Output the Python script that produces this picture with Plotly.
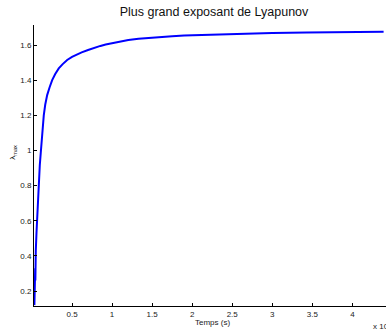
import plotly.graph_objects as go

# Largest Lyapunov exponent estimate over time
temps = [300, 320, 340, 360, 380, 400, 420, 440, 474, 560, 650, 730, 810, 973,
         1100, 1185, 1300, 1470, 1650, 1895, 2200, 2520, 2900, 3340, 3800, 4390,
         5000, 5420, 6200, 7000, 7900, 8540, 9200, 9950, 11000, 12030, 13300,
         14780, 16000, 17500, 19000, 21000, 24000, 27200, 30000, 34300, 38000,
         41000, 43900]
lambda_max = [0.12, 0.28, 0.18, 0.30, 0.22, 0.33, 0.26, 0.38, 0.43, 0.53, 0.62,
              0.72, 0.80, 0.916, 0.99, 1.05, 1.12, 1.20, 1.26, 1.315, 1.36, 1.40,
              1.435, 1.467, 1.49, 1.515, 1.533, 1.543, 1.558, 1.572, 1.587,
              1.595, 1.603, 1.61, 1.62, 1.628, 1.636, 1.642, 1.647, 1.650, 1.654,
              1.657, 1.662, 1.667, 1.669, 1.672, 1.674, 1.675, 1.676]

x_tickvals = [5000, 10000, 15000, 20000, 25000, 30000, 35000, 40000]
x_ticktext = ["0.5", "1", "1.5", "2", "2.5", "3", "3.5", "4"]
y_tickvals = [0.2, 0.4, 0.6, 0.8, 1.0, 1.2, 1.4, 1.6]
y_ticktext = ["0.2", "0.4", "0.6", "0.8", "1", "1.2", "1.4", "1.6"]

W, H = 386, 331
font_family = "Liberation Sans, Arial, sans-serif"

fig = go.Figure()
fig.add_trace(go.Scatter(
    x=temps, y=lambda_max, mode="lines",
    line=dict(color="#0000ff", width=2),
    showlegend=False,
))

axis_common = dict(
    showgrid=False, zeroline=False, showline=True, linecolor="black",
    linewidth=1, ticks="inside", ticklen=3, tickwidth=1, tickcolor="black",
    tickfont=dict(size=8, color="#222222", family=font_family),
    mirror=False,
)

fig.update_layout(
    width=W, height=H,
    margin=dict(l=33.5, r=0, t=25, b=25.3),
    paper_bgcolor="white", plot_bgcolor="white",
    font=dict(family=font_family, color="#222222"),
    title=dict(
        text="Plus grand exposant de Lyapunov",
        font=dict(size=12.5, color="#111111", family=font_family),
        x=214 / W, xref="container", xanchor="center",
        y=1 - 12 / H, yref="container", yanchor="middle",
    ),
    xaxis=dict(range=[250, 44200], tickvals=x_tickvals, ticktext=x_ticktext,
               **axis_common),
    yaxis=dict(range=[0.115, 1.714], tickvals=y_tickvals, ticktext=y_ticktext,
               **axis_common),
    annotations=[
        dict(text="Temps (s)", xref="paper", yref="paper",
             x=(212 - 33.5) / (W - 33.5), y=-(321.7 - 305.7) / (305.7 - 25),
             xanchor="center", yanchor="middle", showarrow=False,
             font=dict(size=8, color="#222222")),
        dict(text="λ<sub>max</sub>", xref="paper", yref="paper",
             x=-(33.5 - 13) / (W - 33.5), y=(305.7 - 152) / (305.7 - 25),
             xanchor="center", yanchor="middle", textangle=-90,
             showarrow=False, font=dict(size=8, color="#222222")),
        dict(text="x 10<sup>4</sup>", xref="paper", yref="paper",
             x=(370.5 - 33.5) / (W - 33.5), y=-(326 - 305.7) / (305.7 - 25),
             xanchor="left", yanchor="middle", showarrow=False,
             font=dict(size=8, color="#222222")),
    ],
)

fig.write_html("out.html")
